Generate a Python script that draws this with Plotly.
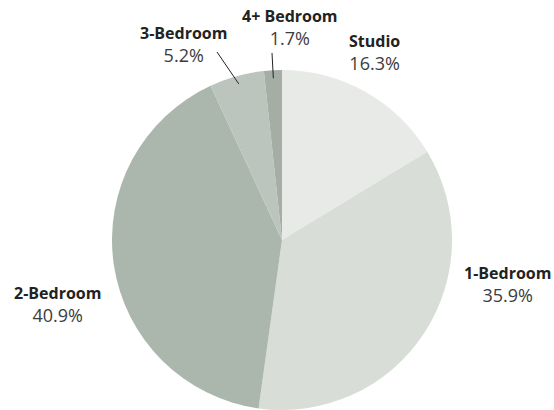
import math
import plotly.graph_objects as go

categories = ["Studio", "1-Bedroom", "2-Bedroom", "3-Bedroom", "4+ Bedroom"]
shares = [16.3, 35.9, 40.9, 5.2, 1.7]
colors = ["#e7eae6", "#d8ddd7", "#abb6ad", "#bcc5bd", "#a4aea5"]

W, H = 554, 410
L, T, PW, PH = 112, 70, 340, 340
R = 170
CX, CY = L + PW / 2, T + PH / 2

def px(x, y):
    return (x - L) / PW, 1 - (y - T) / PH

# label block centres (layout) and optional leader-line outer ends
label_pos = {
    "Studio": (374, 53),
    "1-Bedroom": (507, 284),
    "2-Bedroom": (57, 304),
    "3-Bedroom": (183, 44),
    "4+ Bedroom": (290, 27),
}
leader_outer = {"3-Bedroom": (217, 52), "4+ Bedroom": (272, 53)}

fig = go.Figure(go.Pie(
    labels=categories, values=shares, sort=False, direction="clockwise",
    rotation=0, textinfo="none", hoverinfo="label+percent",
    marker=dict(colors=colors, line=dict(color="white", width=0)),
    domain=dict(x=[0, 1], y=[0, 1]), showlegend=False,
))

annotations = []
shapes = []
total = sum(shares)
cum = 0
for cat, v in zip(categories, shares):
    mid = (cum + v / 2) / total * 2 * math.pi
    cum += v
    x, y = label_pos[cat]
    ax, ay = px(x, y)
    annotations.append(dict(
        x=ax, y=ay, xref="paper", yref="paper", showarrow=False,
        xanchor="center", yanchor="middle",
        text=(f"<b><span style='color:#222;font-size:16px'>{cat}</span></b>"
              f"<br>{v:.1f}%"),
        font=dict(family="Open Sans", size=18, color="#3c3c3c"),
    ))
    if cat in leader_outer:
        ix = CX + 0.953 * R * math.sin(mid)
        iy = CY - 0.953 * R * math.cos(mid)
        ox, oy = leader_outer[cat]
        x0, y0 = px(ox, oy)
        x1, y1 = px(ix, iy)
        shapes.append(dict(type="line", xref="paper", yref="paper",
                           x0=x0, y0=y0, x1=x1, y1=y1,
                           line=dict(color="#222", width=1)))

fig.update_layout(
    width=W, height=H, autosize=False,
    margin=dict(l=L, r=W - L - PW, t=T, b=H - T - PH),
    paper_bgcolor="white", plot_bgcolor="white",
    annotations=annotations, shapes=shapes,
)
fig.write_html("out.html")
